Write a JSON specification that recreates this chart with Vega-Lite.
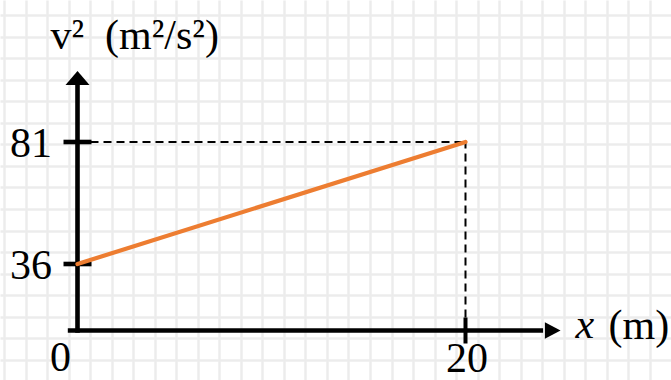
{
  "$schema": "https://vega.github.io/schema/vega-lite/v6.json",
  "width": 671,
  "height": 380,
  "autosize": {"type": "none"},
  "padding": 0,
  "background": "white",
  "config": {"view": {"stroke": null}},
  "layer": [
    {
      "data": {"values": [{}]},
      "mark": {"type": "point", "opacity": 0},
      "encoding": {
        "x": {
          "datum": 0,
          "type": "quantitative",
          "scale": {"domain": [-0.1858, 30.98], "nice": false, "zero": false},
          "axis": {
            "orient": "top",
            "values": [0,1,2,3,4,5,6,7,8,9,10,11,12,13,14,15,16,17,18,19,20,21,22,23,24,25,26,27,28,29,30],
            "grid": true, "gridColor": "#ececec", "gridWidth": 2.5,
            "domain": false, "ticks": false, "labels": false,
            "title": "x",
            "titleFont": "Liberation Serif", "titleFontStyle": "italic", "titleFontSize": 42,
            "titleFontWeight": "normal", "titleColor": "black",
            "titleX": 575, "titleY": 337.5, "titleAlign": "left", "titleBaseline": "alphabetic", "titleAngle": 0
          }
        },
        "y": {
          "datum": 0,
          "type": "quantitative",
          "scale": {"domain": [-0.6957, 16.93], "reverse": true, "nice": false, "zero": false},
          "axis": {
            "orient": "right",
            "values": [0,1,2,3,4,5,6,7,8,9,10,11,12,13,14,15,16],
            "grid": true, "gridColor": "#ececec", "gridWidth": 2.5,
            "domain": false, "ticks": false, "labels": false,
            "title": null
          }
        }
      }
    },
    {
      "layer": [
        {
          "data": {"values": [{}]},
          "mark": {"type": "rule", "strokeDash": [8, 5], "strokeWidth": 2, "color": "black"},
          "encoding": {
            "x": {"datum": 0, "type": "quantitative"},
            "x2": {"datum": 20},
            "y": {"datum": 81, "type": "quantitative"}
          }
        },
        {
          "data": {"values": [{}]},
          "mark": {"type": "rule", "strokeDash": [8, 5], "strokeWidth": 2, "color": "black"},
          "encoding": {
            "x": {"datum": 20, "type": "quantitative"},
            "y": {"datum": 0, "type": "quantitative"},
            "y2": {"datum": 81}
          }
        },
        {
          "data": {"values": [{}]},
          "mark": {"type": "rule", "strokeWidth": 4.6, "color": "black", "strokeCap": "square"},
          "encoding": {
            "x": {"datum": 0, "type": "quantitative"},
            "y": {"datum": 0, "type": "quantitative"},
            "y2": {"datum": 104}
          }
        },
        {
          "data": {"values": [{}]},
          "mark": {"type": "rule", "strokeWidth": 4.6, "color": "black"},
          "encoding": {
            "x": {"datum": -0.5, "type": "quantitative"},
            "x2": {"datum": 24},
            "y": {"datum": 0, "type": "quantitative"}
          }
        },
        {
          "data": {"values": [{}]},
          "mark": {"type": "point", "shape": "M0,0L1,1.1667L-1,1.1667Z", "size": 576, "filled": true, "color": "black", "opacity": 1, "strokeWidth": 0},
          "encoding": {
            "x": {"datum": 0, "type": "quantitative"},
            "y": {"datum": 107.2, "type": "quantitative"}
          }
        },
        {
          "data": {"values": [{}]},
          "mark": {"type": "point", "shape": "M0,0L-1,-0.53L-1,0.53Z", "size": 986, "filled": true, "color": "black", "opacity": 1, "strokeWidth": 0},
          "encoding": {
            "x": {"datum": 24.9, "type": "quantitative"},
            "y": {"datum": 0, "type": "quantitative"}
          }
        },
        {
          "data": {"values": [{}]},
          "mark": {"type": "tick", "orient": "horizontal", "size": 28, "thickness": 4.6, "color": "black", "opacity": 1},
          "encoding": {
            "x": {"datum": 0, "type": "quantitative"},
            "y": {"datum": 81, "type": "quantitative"}
          }
        },
        {
          "data": {"values": [{}]},
          "mark": {"type": "tick", "orient": "horizontal", "size": 28, "thickness": 4.6, "color": "black", "opacity": 1},
          "encoding": {
            "x": {"datum": 0, "type": "quantitative"},
            "y": {"datum": 36, "type": "quantitative"}
          }
        },
        {
          "data": {"values": [{}]},
          "mark": {"type": "tick", "orient": "vertical", "size": 26, "thickness": 4, "color": "black", "opacity": 1},
          "encoding": {
            "x": {"datum": 20, "type": "quantitative"},
            "y": {"datum": 0, "type": "quantitative"}
          }
        },
        {
          "data": {"values": [{"x_m": 0, "v2": 36}, {"x_m": 20, "v2": 81}]},
          "mark": {"type": "line", "color": "#ED7D31", "strokeWidth": 4.2, "strokeCap": "round"},
          "encoding": {
            "x": {
              "field": "x_m",
              "type": "quantitative",
              "scale": {"domain": [-3.995, 30.593], "nice": false, "zero": false},
              "axis": {
                "orient": "bottom",
                "offset": -49.5,
                "values": [0, 20],
                "domain": false, "ticks": false, "tickSize": 0, "grid": false,
                "labelFont": "Liberation Serif", "labelFontSize": 42, "labelColor": "black",
                "labelAlign": "center", "labelBaseline": "top",
                "labelOverlap": false, "labelFlush": false, "labelBound": false,
                "labelOffset": {"condition": {"test": "datum.value === 0", "value": -17.5}, "value": 1},
                "labelPadding": {"condition": {"test": "datum.value === 0", "value": 6.5}, "value": 7.5},
                "title": "(m)",
                "titleFont": "Liberation Serif", "titleFontSize": 42, "titleFontWeight": "normal", "titleColor": "black",
                "titleX": 608, "titleY": 7.5, "titleAlign": "left", "titleBaseline": "alphabetic", "titleAngle": 0
              }
            },
            "y": {
              "field": "v2",
              "type": "quantitative",
              "scale": {"type": "linear", "domain": [-26.8, 0, 36, 81, 133.38], "range": [380, 330.5, 264, 142, 0], "nice": false, "zero": false},
              "axis": {
                "orient": "left",
                "offset": -77.5,
                "values": [36, 81],
                "domain": false, "ticks": false, "tickSize": 0, "grid": false,
                "labelFont": "Liberation Serif", "labelFontSize": 42, "labelColor": "black",
                "labelAlign": "right", "labelBaseline": "middle", "labelPadding": 26, "labelOffset": 1.5,
                "labelOverlap": false, "labelFlush": false, "labelBound": false,
                "title": "v²\u2002(m²/s²)",
                "titleFont": "Liberation Serif", "titleFontSize": 42, "titleFontWeight": "normal", "titleColor": "black",
                "titleX": -27.5, "titleY": 48, "titleAlign": "left", "titleBaseline": "alphabetic", "titleAngle": 0
              }
            }
          }
        }
      ]
    }
  ],
  "resolve": {"scale": {"x": "independent", "y": "independent"}}
}
